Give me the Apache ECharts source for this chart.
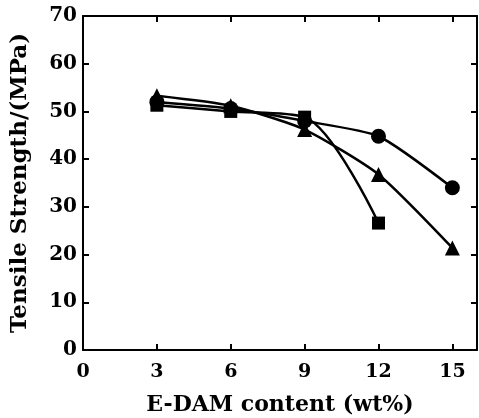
<!DOCTYPE html>
<html>
<head>
<meta charset="utf-8">
<script src="https://cdn.jsdelivr.net/npm/echarts@6/dist/echarts.min.js"></script>
<style>html,body{margin:0;padding:0;background:#fff}#c{width:479px;height:418px}</style>
</head>
<body>
<div id="c"></div>
<script>
const xValues = [3, 6, 9, 12, 15];
const squareSeries = [51.3, 50.0, 48.8, 26.6];
const circleSeries = [52.0, 50.6, 48.0, 44.8, 34.0];
const triangleSeries = [53.3, 51.2, 46.2, 36.8, 21.4];
const xTicks = [0, 3, 6, 9, 12, 15];
const yTicks = [0, 10, 20, 30, 40, 50, 60, 70];

const font = 'DejaVu Serif';
function pairs(vals){ return vals.map((v,i)=>[xValues[i], v]); }

const chart = echarts.init(document.getElementById('c'), null, {renderer:'canvas'});
const axisLine = {show:true, onZero:false, lineStyle:{color:'#000', width:2}};
const tick = {show:true, inside:true, length:6, lineStyle:{color:'#000', width:2}};
chart.setOption({
  animation:false,
  grid:{left:83, top:16, right:2, bottom:68, containLabel:false, outerBoundsMode:'none'},
  xAxis:[{
    type:'value', min:0, max:16, interval:3, position:'bottom',
    axisLine, axisTick:tick, splitLine:{show:false},
    axisLabel:{color:'#000', fontFamily:font, fontWeight:'bold', fontSize:19, margin:13, showMaxLabel:false,
      formatter:v=> xTicks.includes(v) ? String(v) : ''},
    name:'E-DAM content (wt%)', nameLocation:'middle', nameGap:44,
    nameTextStyle:{color:'#000', fontFamily:font, fontWeight:'bold', fontSize:22}
  },{
    type:'value', min:0, max:16, interval:3, position:'top',
    axisLine, axisTick:tick, axisLabel:{show:false}, splitLine:{show:false}
  }],
  yAxis:[{
    type:'value', min:0, max:70, interval:10, position:'left',
    axisLine, axisTick:tick, splitLine:{show:false},
    axisLabel:{color:'#000', fontFamily:font, fontWeight:'bold', fontSize:20, margin:6,
      formatter:v=> yTicks.includes(v) ? String(v) : ''},
    name:'Tensile Strength/(MPa)', nameLocation:'middle', nameGap:51,
    nameTextStyle:{color:'#000', fontFamily:font, fontWeight:'bold', fontSize:23}
  },{
    type:'value', min:0, max:70, interval:10, position:'right',
    axisLine, axisTick:tick, axisLabel:{show:false}, splitLine:{show:false}
  }],
  series:[
    {type:'line', data:pairs(squareSeries), smooth:0.3, symbol:'rect', symbolSize:13,
      lineStyle:{color:'#000', width:2.5}, itemStyle:{color:'#000'}},
    {type:'line', data:pairs(circleSeries), smooth:0.2, symbol:'circle', symbolSize:15,
      lineStyle:{color:'#000', width:2.5}, itemStyle:{color:'#000'}},
    {type:'line', data:pairs(triangleSeries), smooth:0.2, symbol:'triangle', symbolSize:15,
      lineStyle:{color:'#000', width:2.5}, itemStyle:{color:'#000'}}
  ]
});
</script>
</body>
</html>
